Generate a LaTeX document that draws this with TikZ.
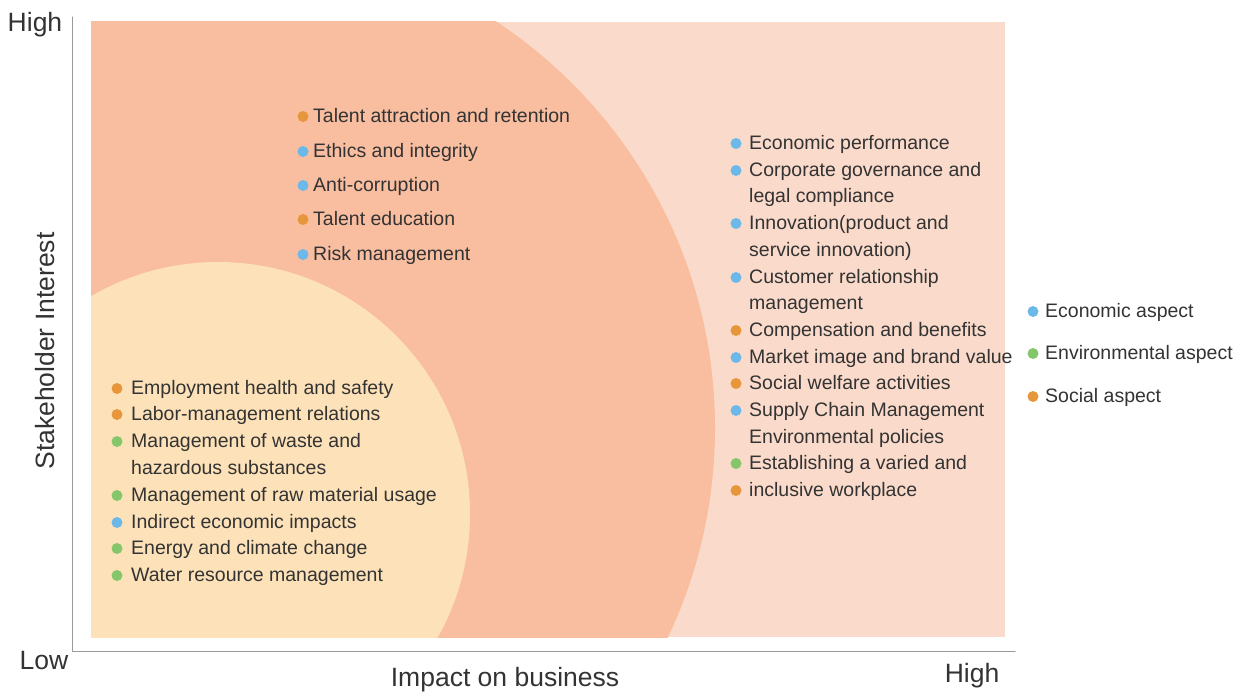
\documentclass[tikz,border=0pt]{standalone}
\usepackage{fontspec}
\setmainfont{Liberation Sans}
\usetikzlibrary{positioning}
\definecolor{txtgray}{HTML}{333333}
\definecolor{axisgray}{HTML}{9A9A9A}
\definecolor{bgpink}{HTML}{FADACA}
\definecolor{midsalmon}{HTML}{F9BDA0}
\definecolor{lowcream}{HTML}{FDE2B9}
\definecolor{econblue}{HTML}{6CB9E9}
\definecolor{envgreen}{HTML}{86C66B}
\definecolor{socorange}{HTML}{E8963B}

\tikzset{
  item/.style={anchor=west, inner sep=0pt, text=txtgray, text height=15pt, text depth=4pt,
    yshift=-1.5pt, font=\fontsize{19.5}{24}\selectfont},
  axislabel/.style={text=txtgray, inner sep=0pt, font=\fontsize{26.5}{32}\selectfont},
}

\begin{document}
\begin{tikzpicture}[line cap=round,line join=round, x=1pt,y=-1pt]
\useasboundingbox (0,0) rectangle (1250,693);
% zones
\fill[bgpink] (91,22) rectangle (1005,637);
\begin{scope}
  \clip (91,22) rectangle (1005,637);
  \fill[midsalmon] (228,428) circle (487);
  \fill[lowcream] (218,514) circle (252);
\end{scope}
% axes
\draw[axisgray, line width=1pt] (72,17) -- (72,651) -- (1015,651);
\node[axislabel] (yhigh) at (35,25) {High};
\node[axislabel] (ylow) at (44,661) {Low};
\node[axislabel, rotate=90] (yname) at (45,351) {Stakeholder Interest};
\node[axislabel] (xname) at (505,680) {Impact on business};
\node[axislabel] (xhigh) at (972,676) {High};
% middle zone
\foreach \y/\c/\t [count=\i] in {
    115/socorange/Talent attraction and retention,
    150/econblue/Ethics and integrity,
    184/econblue/Anti-corruption,
    218/socorange/Talent education,
    253/econblue/Risk management}{
  \node[item] (mid\i) at (313,\y) {\t};
  \path[fill=\c] ([xshift=-10pt]mid\i.west) circle (5.5);
}
% high zone
\foreach \y/\c/\t [count=\i] in {
    142/econblue/Economic performance,
    169/econblue/Corporate governance and,
    195/none/legal compliance,
    222/econblue/Innovation(product and,
    249/none/service innovation),
    276/econblue/Customer relationship,
    302/none/management,
    329/socorange/Compensation and benefits,
    356/econblue/Market image and brand value,
    382/socorange/Social welfare activities,
    409/econblue/Supply Chain Management,
    436/none/Environmental policies,
    462/envgreen/Establishing a varied and,
    489/socorange/inclusive workplace}{
  \node[item] (high\i) at (749,\y) {\t};
  \path[fill=\c] ([xshift=-13pt]high\i.west) circle (5.5);
}
% low zone
\foreach \y/\c/\t [count=\i] in {
    387/socorange/Employment health and safety,
    413/socorange/Labor-management relations,
    440/envgreen/Management of waste and,
    467/none/hazardous substances,
    494/envgreen/Management of raw material usage,
    521/econblue/Indirect economic impacts,
    547/envgreen/Energy and climate change,
    574/envgreen/Water resource management}{
  \node[item] (low\i) at (131,\y) {\t};
  \path[fill=\c] ([xshift=-14pt]low\i.west) circle (5.5);
}
% legend
\foreach \y/\c/\t [count=\i] in {
    310/econblue/Economic aspect,
    352/envgreen/Environmental aspect,
    395/socorange/Social aspect}{
  \node[item] (key\i) at (1045,\y) {\t};
  \path[fill=\c] ([xshift=-12pt]key\i.west) circle (5.5);
}
\end{tikzpicture}
\end{document}
